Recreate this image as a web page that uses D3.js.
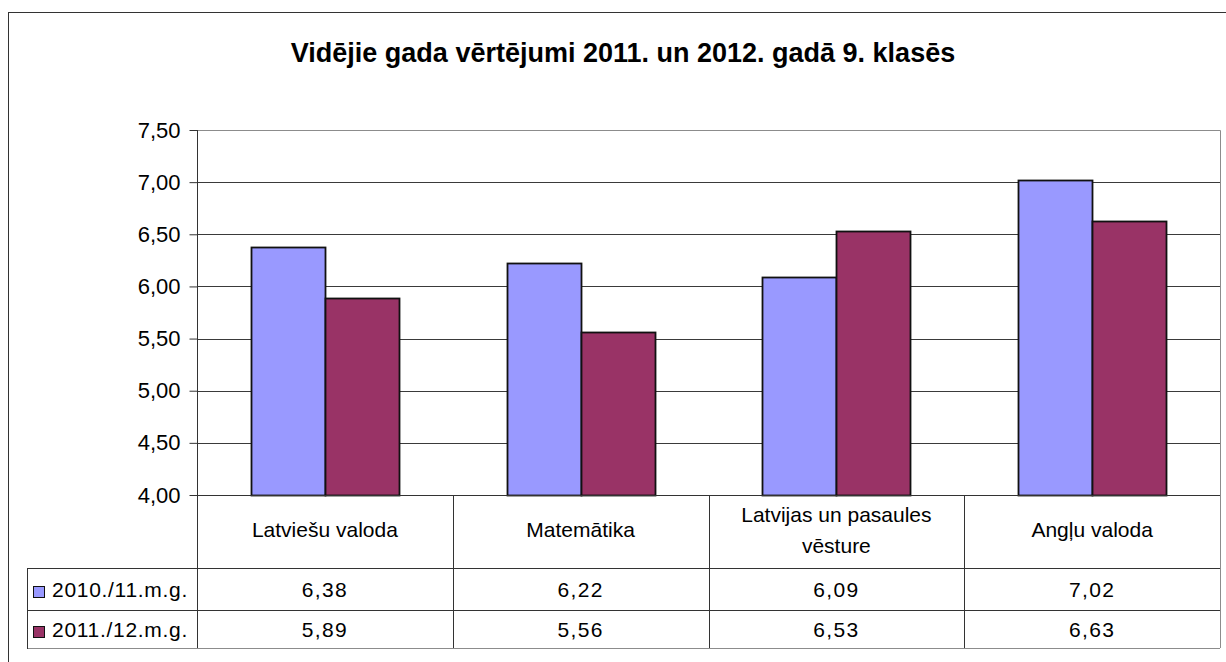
<!DOCTYPE html>
<html>
<head>
<meta charset="utf-8">
<script src="https://cdn.jsdelivr.net/npm/d3@7"></script>
<style>
    body { margin: 0; background: #ffffff; }
    svg { display: block; font-family: "Liberation Sans", Arial, sans-serif; }
</style>
</head>
<body>
<div class="Chart"></div>
<script>

const title = "Vidējie gada vērtējumi 2011. un 2012. gadā 9. klasēs";
const categories = [
    ["Latviešu valoda"],
    ["Matemātika"],
    ["Latvijas un pasaules", "vēsture"],
    ["Angļu valoda"]
];
const series_names = ["2010./11.m.g.", "2011./12.m.g."];
const series_colors = ["#9999ff", "#993366"];
const values_2011 = [6.38, 6.22, 6.09, 7.02];
const values_2012 = [5.89, 5.56, 6.53, 6.63];
const y_ticks = [4.0, 4.5, 5.0, 5.5, 6.0, 6.5, 7.0, 7.5];

const series = [values_2011, values_2012];
const fmt = v => d3.format(".2f")(v).replace(".", ",");

const width = 1226;
const height = 662;

const plot = {left: 197, right: 1220, top: 130, bottom: 495};
const table_left = 27;
const row_lines = [495, 568, 610, 648];

const svg = d3.select(".Chart")
    .append("svg")
    .attr("width", width)
    .attr("height", height);

// outer chart border, runs off the right and bottom of the window
svg.append("rect")
    .attr("x", 8.5).attr("y", 12.5)
    .attr("width", 1300).attr("height", 800)
    .attr("fill", "none")
    .attr("stroke", "#333333");

svg.append("text")
    .attr("x", 623).attr("y", 62)
    .attr("text-anchor", "middle")
    .attr("font-size", 27)
    .attr("font-weight", "bold")
    .text(title);

const x = d3.scaleBand()
    .domain(d3.range(categories.length))
    .range([plot.left, plot.right]);

const x_inner = d3.scaleBand()
    .domain(d3.range(series.length))
    .range([0, x.bandwidth()])
    .paddingInner(0)
    .paddingOuter(0.73);

const y = d3.scaleLinear()
    .domain([4, 7.5])
    .range([plot.bottom, plot.top]);

// plot area border (gray)
svg.append("path")
    .attr("d", `M${plot.left},${plot.top + 0.5}H${plot.right + 0.5}V${row_lines[3]}`)
    .attr("fill", "none")
    .attr("stroke", "#8c8c8c");

// gridlines
svg.append("g")
    .selectAll("line")
    .data(y_ticks.filter(t => t > 4 && t < 7.5))
    .join("line")
    .attr("x1", plot.left).attr("x2", plot.right)
    .attr("y1", d => Math.round(y(d)) + 0.5)
    .attr("y2", d => Math.round(y(d)) + 0.5)
    .attr("stroke", "#3a3a3a");

// bars
svg.append("g")
    .selectAll("g")
    .data(series)
    .join("g")
    .attr("fill", (d, i) => series_colors[i])
    .selectAll("rect")
    .data((d, i) => d.map((v, c) => ({c, i, v})))
    .join("rect")
    .attr("x", d => Math.round(x(d.c) + x_inner(d.i)) + 0.5)
    .attr("y", d => Math.round(y(d.v)) + 0.5)
    .attr("width", Math.round(x_inner.bandwidth()))
    .attr("height", d => Math.round(plot.bottom - y(d.v)))
    .attr("stroke", "#111111")
    .attr("stroke-width", 1.8);

// y axis
const y_axis = svg.append("g")
    .attr("transform", `translate(${plot.left + 0.5},0)`)
    .call(d3.axisLeft(y).tickValues(y_ticks).tickSize(8).tickPadding(9).tickFormat(fmt));
y_axis.select(".domain").remove();
y_axis.selectAll("line").attr("stroke", "#333333");
y_axis.selectAll("text")
    .attr("font-size", 22)
    .attr("font-family", "Liberation Sans, Arial, sans-serif")
    .attr("fill", "#000000");

// data table lines
const table = svg.append("g").attr("stroke", "#333333");
table.append("line")
    .attr("x1", plot.left + 0.5).attr("x2", plot.left + 0.5)
    .attr("y1", plot.top).attr("y2", row_lines[3]);
table.append("line")
    .attr("x1", plot.left).attr("x2", plot.right)
    .attr("y1", row_lines[0] + 0.5).attr("y2", row_lines[0] + 0.5);
table.selectAll(".RowLine")
    .data(row_lines.slice(1))
    .join("line")
    .attr("class", "RowLine")
    .attr("x1", table_left).attr("x2", plot.right)
    .attr("y1", d => d + 0.5).attr("y2", d => d + 0.5)
    .attr("stroke", (d, i) => i === 2 ? "#8c8c8c" : "#333333");
table.append("line")
    .attr("x1", table_left + 0.5).attr("x2", table_left + 0.5)
    .attr("y1", row_lines[1]).attr("y2", row_lines[3] + 1);
table.selectAll(".ColLine")
    .data(d3.range(1, categories.length))
    .join("line")
    .attr("class", "ColLine")
    .attr("x1", d => Math.round(x(d)) + 0.5).attr("x2", d => Math.round(x(d)) + 0.5)
    .attr("y1", row_lines[0]).attr("y2", row_lines[3]);

// category labels
svg.append("g")
    .selectAll("text")
    .data(categories)
    .join("text")
    .attr("x", (d, i) => x(i) + x.bandwidth() / 2)
    .attr("y", d => 537 - (d.length - 1) * 15)
    .attr("text-anchor", "middle")
    .attr("font-size", 21)
    .selectAll("tspan")
    .data(d => d)
    .join("tspan")
    .attr("x", function () { return this.parentNode.getAttribute("x"); })
    .attr("dy", (d, i) => i === 0 ? 0 : 31)
    .text(d => d);

// table rows: legend keys, names and values
const rows = svg.append("g")
    .selectAll("g")
    .data(series)
    .join("g")
    .attr("transform", (d, i) => `translate(0,${(row_lines[i + 1] + row_lines[i + 2]) / 2})`);

rows.append("rect")
    .attr("x", 33.5).attr("y", -2.5)
    .attr("width", 11).attr("height", 11)
    .attr("fill", (d, i) => series_colors[i])
    .attr("stroke", "#111111");

rows.append("text")
    .attr("x", 52).attr("y", 8)
    .attr("font-size", 21)
    .attr("letter-spacing", 0.7)
    .text((d, i) => series_names[i]);

rows.selectAll(".Value")
    .data(d => d)
    .join("text")
    .attr("class", "Value")
    .attr("x", (d, c) => x(c) + x.bandwidth() / 2)
    .attr("y", 8)
    .attr("text-anchor", "middle")
    .attr("font-size", 21)
    .attr("letter-spacing", 1.3)
    .text(d => fmt(d));

</script>
</body>
</html>
